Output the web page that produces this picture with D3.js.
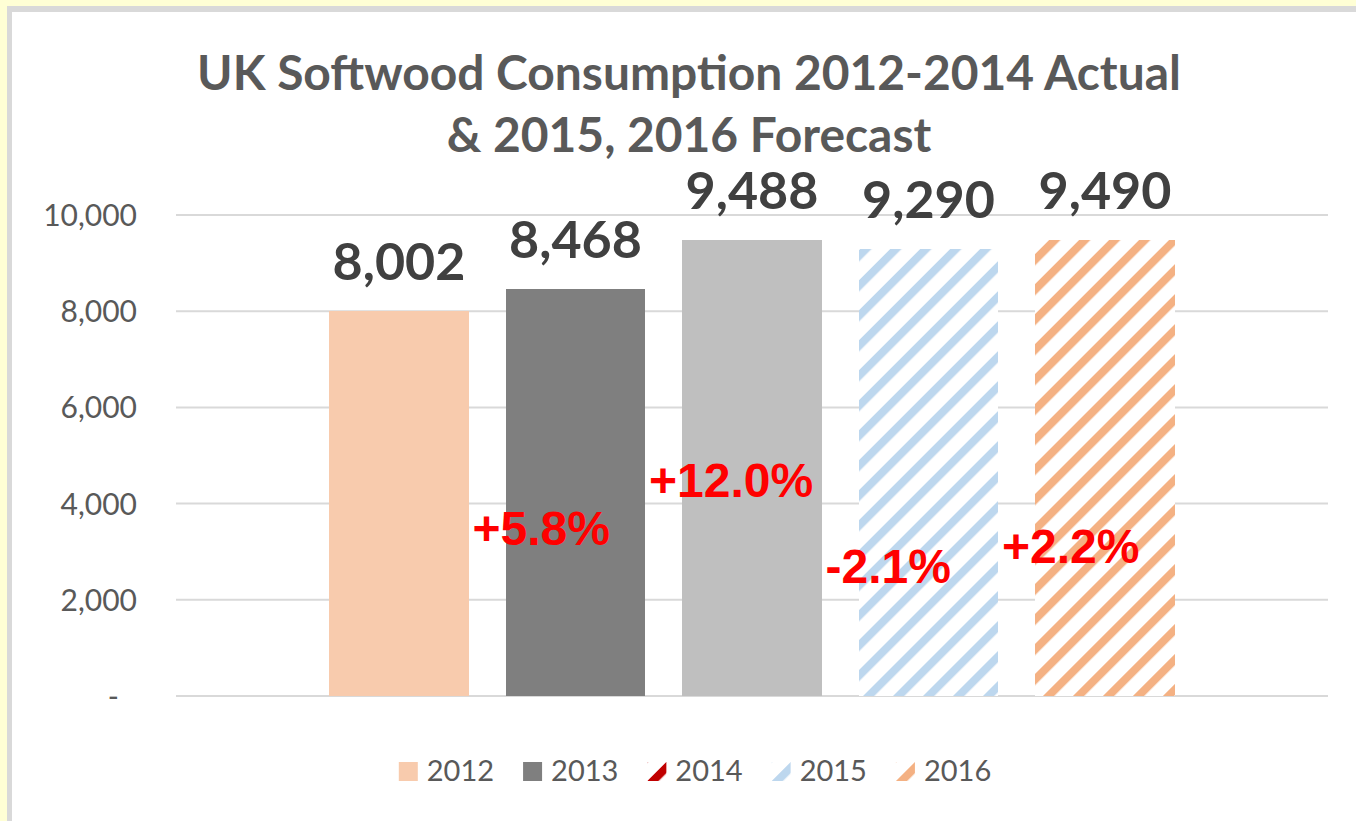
<!DOCTYPE html>
<html>
<head>
<meta charset="utf-8">
<script src="https://cdn.jsdelivr.net/npm/d3@7"></script>
<style>
	body { margin: 0; background: #ffffd5; }
	svg { display: block; }
</style>
</head>
<body>
<svg id="graphe" width="1356" height="821"></svg>
<script>
"use strict";

// données
var annees = ["2012", "2013", "2014", "2015", "2016"];
var volumes = [8002, 8468, 9488, 9290, 9490];
var variations = ["", "+5.8%", "+12.0%", "-2.1%", "+2.2%"];
var niveauxVariations = [0, 3140, 4140, 2350, 2770]; // hauteur (en unités) où la variation est écrite
var graduations = [0, 2000, 4000, 6000, 8000, 10000];
var titre = ["UK Softwood Consumption 2012-2014 Actual", "& 2015, 2016 Forecast"];

var couleurs = {
	"2012": "#f8cbad",
	"2013": "#7f7f7f",
	"2014": "#bfbfbf",
	"2015": "#bdd7ee",
	"2016": "#f4b183"
};
var hachures = { "2015": "#bdd7ee", "2016": "#f4b183" };
var legendeCouleurs = { "2012": "#f8cbad", "2013": "#7f7f7f", "2014": "#c00000", "2015": "#bdd7ee", "2016": "#f4b183" };
var legendeHachees = ["2014", "2015", "2016"];

var gris = "#595959";

var svg = d3.select("#graphe");

/*
	CADRE	****	****	****	****	*/
svg.append("rect")
.attr("width", 1356)
.attr("height", 821)
.attr("fill", "#ffffd5");

svg.append("rect")
.attr("x", 7)
.attr("y", 6)
.attr("width", 1400)
.attr("height", 900)
.attr("fill", "#d9d9d9");

svg.append("rect")
.attr("x", 12)
.attr("y", 12)
.attr("width", 1400)
.attr("height", 900)
.attr("fill", "#ffffff");

// motifs de hachures
var defs = svg.append("defs");
Object.keys(legendeCouleurs).forEach(function (an) {
	var motif = defs.append("pattern")
	.attr("id", "hachure" + an)
	.attr("patternUnits", "userSpaceOnUse")
	.attr("width", 21.2)
	.attr("height", 21.2)
	.attr("patternTransform", "rotate(45)");
	motif.append("rect")
	.attr("width", 21.2)
	.attr("height", 21.2)
	.attr("fill", "#ffffff");
	motif.append("rect")
	.attr("width", 8)
	.attr("height", 21.2)
	.attr("fill", legendeCouleurs[an]);
});

/*
	ÉCHELLES	****	****	****	****	*/
var x = d3.scaleBand()
.domain(annees)
.range([176, 1328])
.paddingInner(0.207)
.paddingOuter(0.867);

var y = d3.scaleLinear()
.domain([0, 10000])
.range([696, 215]);

// titre
svg.append("g")
.attr("class", "titre")
.selectAll("text")
.data(titre)
.enter()
	.append("text")
	.attr("x", 689)
	.attr("y", (d, i) => 90 + i * 62 )
	.attr("text-anchor", "middle")
	.attr("font-family", "Lato")
	.attr("font-weight", "bold")
	.attr("font-size", 48)
	.attr("fill", gris)
	.text(d => d );

// ajuste la largeur du titre sur celle de l'image (984 px pour la première ligne)
var tt = svg.select(".titre text").node().getComputedTextLength();
svg.selectAll(".titre text").attr("font-size", 48 * 984 / tt);

// axe y et grille
var axeY = svg.append("g")
.attr("class", "y axis")
.attr("transform", "translate(176,0)")
.call(d3.axisLeft(y)
	.tickValues(graduations)
	.tickSize(0)
	.tickPadding(39)
	.tickFormat(d => d === 0 ? "-" : d3.format(",")(d) ));
axeY.select(".domain").remove();
axeY.selectAll("text")
.attr("font-family", "Lato")
.attr("font-size", 30)
.attr("fill", gris)
.attr("dy", "0.35em")
.filter(d => d === 0 )
	.attr("dx", -18);

svg.append("g")
.attr("class", "grille")
.selectAll("line")
.data(graduations)
.enter()
	.append("line")
	.attr("x1", 176)
	.attr("x2", 1328)
	.attr("y1", d => y(d) )
	.attr("y2", d => y(d) )
	.attr("stroke", "#d9d9d9")
	.attr("stroke-width", 2);

/*
	BARRES	****	****	****	****	*/
svg.append("g")
.attr("class", "barres")
.selectAll("rect")
.data(annees)
.enter()
	.append("rect")
	.attr("x", d => x(d) )
	.attr("y", (d, i) => y(volumes[i]) )
	.attr("width", x.bandwidth())
	.attr("height", (d, i) => y(0) - y(volumes[i]) )
	.attr("fill", d => hachures[d] ? "url(#hachure" + d + ")" : couleurs[d] )
	.attr("shape-rendering", "crispEdges");

// étiquettes de valeur
svg.append("g")
.attr("class", "valeurs")
.selectAll("text")
.data(annees)
.enter()
	.append("text")
	.attr("x", d => x(d) + x.bandwidth() / 2 )
	.attr("y", (d, i) => y(volumes[i]) - 31 )
	.attr("text-anchor", "middle")
	.attr("font-family", "Lato")
	.attr("font-weight", "bold")
	.attr("font-size", 52)
	.attr("fill", "#404040")
	.text((d, i) => d3.format(",")(volumes[i]) );

// variations annuelles, en rouge
svg.append("g")
.attr("class", "variations")
.selectAll("text")
.data(annees.slice(1))
.enter()
	.append("text")
	.attr("x", d => x(d) - 33 )
	.attr("y", (d, i) => y(niveauxVariations[i + 1]) )
	.attr("font-family", "Liberation Sans")
	.attr("font-weight", "bold")
	.attr("font-size", 48)
	.attr("fill", "#ff0000")
	.text((d, i) => variations[i + 1] );

/*
	LÉGENDE	****	****	****	****	*/
var gLegende = svg.append("g")
.attr("class", "legende");

var curseur = 0;
annees.forEach(function (an) {
	var item = gLegende.append("g")
	.attr("transform", "translate(" + curseur + ",0)");
	item.append("rect")
	.attr("y", -19)
	.attr("width", 19)
	.attr("height", 19)
	.attr("fill", legendeHachees.indexOf(an) >= 0 ? "url(#hachure" + an + ")" : legendeCouleurs[an]);
	var t = item.append("text")
	.attr("x", 28)
	.attr("font-family", "Lato")
	.attr("font-size", 29)
	.attr("fill", gris)
	.text(an);
	curseur += 28 + t.node().getComputedTextLength() + 29;
});
gLegende.attr("transform", "translate(" + (695 - (curseur - 29) / 2) + ",781)");
</script>
</body>
</html>
